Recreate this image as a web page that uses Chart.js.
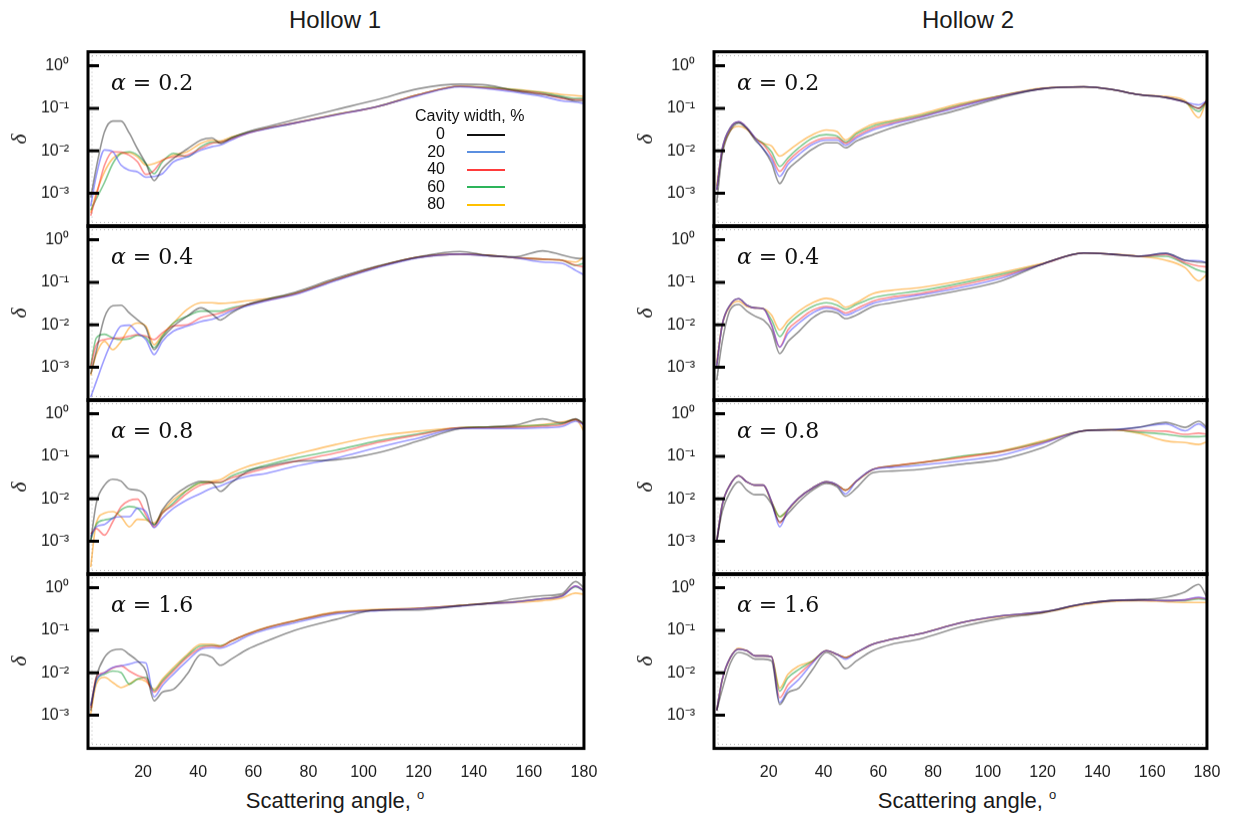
<!DOCTYPE html>
<html>
<head>
<meta charset="utf-8">
<title>Depolarization vs scattering angle</title>
<style>
  body { margin: 0; background: #fff; }
  #page { position: relative; width: 1237px; height: 817px; overflow: hidden; font-family: 'Liberation Sans', Arial, sans-serif; color: #1a1a1a; }
  .panel { position: absolute; left: 0; top: 0; z-index: 1; }
  .col-title { position: absolute; top: 6px; width: 300px; text-align: center; font-size: 24px; }
  .x-title { position: absolute; top: 787px; width: 300px; text-align: center; font-size: 22px; }
  .x-title sup { font-size: 13px; vertical-align: 9px; }
  .alpha { position: absolute; z-index: 2; font-family: 'DejaVu Serif', serif; font-size: 22px; line-height: 22px; white-space: pre; color: #111; }
  #legend { position: absolute; left: 400px; top: 107px; z-index: 2; font-family: 'Liberation Sans Narrow', 'Liberation Sans', sans-serif; font-size: 16px; color: #111; }
  #legend .head { line-height: 18px; padding-left: 15px; }
  #legend .row { height: 17.5px; line-height: 17.5px; }
  #legend .row span { display: inline-block; width: 45px; text-align: right; }
  #legend .row i { display: inline-block; width: 38px; height: 2px; margin-left: 22px; vertical-align: middle; }
</style>
</head>
<body>
<div id="page">
  <div class="col-title" style="left:185px">Hollow 1</div>
  <div class="col-title" style="left:818px">Hollow 2</div>
  <div class="x-title" style="left:185px">Scattering angle, <sup>o</sup></div>
  <div class="x-title" style="left:817px">Scattering angle, <sup>o</sup></div>
  <div id="legend"></div>
</div>
<script src="https://cdn.jsdelivr.net/npm/chart.js@4/dist/chart.umd.min.js"></script>
<script>
// -------------- Data --------------
const angles = [1, 3, 6, 9, 12, 15, 18, 21, 24, 27, 31, 36, 41, 45, 48, 52, 58, 65, 75, 90, 105, 120, 135, 145, 155, 165, 172, 177, 180];
const widths = ['0', '20', '40', '60', '80'];
const alphas = ['0.2', '0.4', '0.8', '1.6'];
const xTicks = [20, 40, 60, 80, 100, 120, 140, 160, 180];
const yTicks = [1e-3, 1e-2, 1e-1, 1];
const yTickLabels = ['10⁻³', '10⁻²', '10⁻¹', '10⁰'];

// Hollow 1, alpha = 0.2
const h1_a02_w0  = [8e-4, 0.004, 0.028, 0.05, 0.05, 0.026, 0.011, 0.005, 0.002, 0.0038, 0.0066, 0.011, 0.018, 0.02, 0.015, 0.02, 0.028, 0.037, 0.054, 0.093, 0.16, 0.29, 0.37, 0.35, 0.26, 0.21, 0.18, 0.15, 0.15];
const h1_a02_w20 = [5e-4, 0.0026, 0.0105, 0.0095, 0.0046, 0.0035, 0.0032, 0.0024, 0.0025, 0.0029, 0.0055, 0.0072, 0.0104, 0.0125, 0.0136, 0.018, 0.026, 0.033, 0.045, 0.07, 0.11, 0.2, 0.32, 0.29, 0.24, 0.19, 0.15, 0.14, 0.13];
const h1_a02_w40 = [3e-4, 8.8e-4, 0.0046, 0.0095, 0.0093, 0.0079, 0.0055, 0.0028, 0.0035, 0.006, 0.0072, 0.0079, 0.0114, 0.015, 0.016, 0.019, 0.026, 0.034, 0.045, 0.071, 0.11, 0.21, 0.33, 0.3, 0.26, 0.22, 0.17, 0.16, 0.16];
const h1_a02_w60 = [4e-4, 7.4e-4, 0.0018, 0.005, 0.0087, 0.0095, 0.0079, 0.005, 0.0029, 0.0055, 0.0087, 0.0072, 0.0125, 0.016, 0.016, 0.02, 0.027, 0.034, 0.045, 0.072, 0.11, 0.21, 0.33, 0.31, 0.27, 0.23, 0.19, 0.17, 0.17];
const h1_a02_w80 = [3.5e-4, 0.001, 0.0032, 0.0066, 0.0087, 0.009, 0.0072, 0.0046, 0.005, 0.006, 0.0079, 0.0095, 0.015, 0.018, 0.017, 0.021, 0.027, 0.034, 0.046, 0.072, 0.11, 0.21, 0.33, 0.31, 0.28, 0.24, 0.21, 0.2, 0.19];

// Hollow 1, alpha = 0.4
const h1_a04_w0  = [7e-4, 0.0024, 0.015, 0.028, 0.029, 0.019, 0.013, 0.0085, 0.0026, 0.0049, 0.0093, 0.016, 0.025, 0.018, 0.013, 0.019, 0.03, 0.04, 0.058, 0.125, 0.24, 0.4, 0.53, 0.43, 0.4, 0.55, 0.44, 0.37, 0.36];
const h1_a04_w20 = [2e-4, 4.6e-4, 0.0016, 0.0045, 0.0093, 0.0098, 0.0064, 0.0045, 0.002, 0.0041, 0.0071, 0.0093, 0.012, 0.0135, 0.016, 0.021, 0.028, 0.037, 0.051, 0.11, 0.22, 0.38, 0.46, 0.42, 0.38, 0.3, 0.28, 0.19, 0.15];
const h1_a04_w40 = [1e-3, 0.0034, 0.0045, 0.0048, 0.0049, 0.0054, 0.0059, 0.0054, 0.0045, 0.0065, 0.0093, 0.01, 0.0148, 0.017, 0.019, 0.023, 0.03, 0.038, 0.053, 0.115, 0.23, 0.39, 0.46, 0.43, 0.38, 0.35, 0.33, 0.25, 0.23];
const h1_a04_w60 = [1.1e-3, 0.0049, 0.006, 0.0049, 0.0045, 0.0047, 0.0057, 0.005, 0.0029, 0.0054, 0.011, 0.016, 0.021, 0.021, 0.021, 0.025, 0.03, 0.039, 0.054, 0.115, 0.23, 0.39, 0.46, 0.43, 0.38, 0.35, 0.33, 0.25, 0.28];
const h1_a04_w80 = [6.5e-4, 0.002, 0.0041, 0.0026, 0.0041, 0.0085, 0.011, 0.0093, 0.0034, 0.0059, 0.011, 0.023, 0.033, 0.033, 0.032, 0.033, 0.037, 0.041, 0.055, 0.115, 0.23, 0.39, 0.46, 0.43, 0.38, 0.35, 0.33, 0.3, 0.4];

// Hollow 1, alpha = 0.8
const h1_a08_w0  = [0.001, 0.0079, 0.021, 0.029, 0.026, 0.017, 0.016, 0.011, 0.0024, 0.0055, 0.0113, 0.0195, 0.026, 0.024, 0.015, 0.024, 0.044, 0.058, 0.076, 0.083, 0.12, 0.23, 0.45, 0.49, 0.54, 0.76, 0.61, 0.76, 0.56];
const h1_a08_w20 = [0.0013, 0.0022, 0.0025, 0.0035, 0.0038, 0.0038, 0.006, 0.005, 0.0021, 0.0035, 0.006, 0.0095, 0.0135, 0.018, 0.02, 0.026, 0.034, 0.04, 0.058, 0.09, 0.16, 0.27, 0.45, 0.45, 0.45, 0.47, 0.5, 0.67, 0.55];
const h1_a08_w40 = [0.0015, 0.002, 0.0014, 0.0029, 0.0066, 0.0091, 0.0098, 0.0042, 0.0022, 0.0046, 0.0072, 0.0135, 0.021, 0.024, 0.025, 0.031, 0.04, 0.053, 0.076, 0.12, 0.21, 0.32, 0.47, 0.47, 0.48, 0.51, 0.55, 0.73, 0.55];
const h1_a08_w60 = [0.0011, 0.0025, 0.0032, 0.0035, 0.0055, 0.0066, 0.006, 0.0035, 0.0025, 0.0046, 0.008, 0.016, 0.024, 0.024, 0.024, 0.034, 0.047, 0.063, 0.09, 0.14, 0.23, 0.34, 0.47, 0.49, 0.5, 0.54, 0.59, 0.73, 0.6];
const h1_a08_w80 = [2.5e-4, 0.0027, 0.0046, 0.005, 0.0038, 0.0022, 0.0033, 0.0032, 0.0027, 0.005, 0.0095, 0.016, 0.024, 0.026, 0.028, 0.04, 0.058, 0.076, 0.11, 0.19, 0.3, 0.39, 0.47, 0.49, 0.51, 0.56, 0.64, 0.73, 0.39];

// Hollow 1, alpha = 1.6
const h1_a16_w0  = [0.0013, 0.0078, 0.023, 0.034, 0.036, 0.027, 0.019, 0.011, 0.0022, 0.0035, 0.0041, 0.0093, 0.027, 0.023, 0.015, 0.021, 0.036, 0.056, 0.1, 0.18, 0.3, 0.3, 0.38, 0.43, 0.55, 0.65, 0.72, 1.4, 1.0];
const h1_a16_w20 = [0.0017, 0.0065, 0.0101, 0.0133, 0.0146, 0.016, 0.018, 0.017, 0.0027, 0.005, 0.0093, 0.019, 0.036, 0.039, 0.038, 0.047, 0.074, 0.105, 0.15, 0.24, 0.29, 0.32, 0.37, 0.42, 0.46, 0.55, 0.63, 1.1, 0.85];
const h1_a16_w40 = [0.0015, 0.0078, 0.0101, 0.013, 0.0145, 0.011, 0.0086, 0.0071, 0.0035, 0.0059, 0.011, 0.023, 0.039, 0.043, 0.041, 0.056, 0.081, 0.115, 0.165, 0.26, 0.3, 0.33, 0.38, 0.43, 0.47, 0.55, 0.65, 1.1, 0.85];
const h1_a16_w60 = [0.0017, 0.0065, 0.0093, 0.011, 0.0101, 0.0054, 0.0071, 0.0078, 0.0038, 0.0065, 0.012, 0.025, 0.043, 0.044, 0.043, 0.056, 0.081, 0.115, 0.165, 0.26, 0.3, 0.33, 0.38, 0.43, 0.47, 0.55, 0.65, 1.05, 0.85];
const h1_a16_w80 = [0.0011, 0.0054, 0.0078, 0.0059, 0.0045, 0.0054, 0.0071, 0.0063, 0.0041, 0.0071, 0.0133, 0.027, 0.047, 0.047, 0.043, 0.056, 0.083, 0.118, 0.17, 0.27, 0.31, 0.33, 0.38, 0.42, 0.45, 0.5, 0.58, 0.75, 0.7];

// Hollow 2, alpha = 0.2
const h2_a02_w0  = [6e-4, 0.008, 0.03, 0.045, 0.033, 0.018, 0.011, 0.0052, 0.0017, 0.0036, 0.0062, 0.011, 0.0154, 0.0154, 0.0118, 0.017, 0.024, 0.035, 0.053, 0.095, 0.18, 0.29, 0.32, 0.28, 0.21, 0.18, 0.14, 0.1, 0.15];
const h2_a02_w20 = [0.0012, 0.011, 0.035, 0.048, 0.035, 0.02, 0.011, 0.0063, 0.0025, 0.0048, 0.0082, 0.0142, 0.018, 0.018, 0.0135, 0.02, 0.031, 0.042, 0.06, 0.11, 0.19, 0.29, 0.32, 0.28, 0.21, 0.18, 0.14, 0.12, 0.15];
const h2_a02_w40 = [0.0012, 0.011, 0.035, 0.048, 0.035, 0.02, 0.014, 0.0075, 0.0033, 0.0057, 0.0098, 0.016, 0.02, 0.02, 0.015, 0.022, 0.034, 0.045, 0.063, 0.115, 0.195, 0.29, 0.32, 0.28, 0.21, 0.18, 0.14, 0.1, 0.15];
const h2_a02_w60 = [0.0012, 0.011, 0.035, 0.047, 0.035, 0.02, 0.015, 0.0095, 0.0043, 0.0068, 0.0118, 0.02, 0.024, 0.022, 0.016, 0.025, 0.038, 0.049, 0.066, 0.12, 0.2, 0.29, 0.32, 0.28, 0.21, 0.18, 0.14, 0.085, 0.15];
const h2_a02_w80 = [0.0015, 0.01, 0.03, 0.038, 0.032, 0.02, 0.015, 0.013, 0.0075, 0.0098, 0.0154, 0.024, 0.031, 0.028, 0.018, 0.027, 0.042, 0.052, 0.072, 0.13, 0.2, 0.3, 0.32, 0.28, 0.21, 0.19, 0.15, 0.06, 0.17];

// Hollow 2, alpha = 0.4
const h2_a04_w0  = [5e-4, 0.004, 0.023, 0.03, 0.021, 0.016, 0.013, 0.0076, 0.0021, 0.004, 0.007, 0.0145, 0.021, 0.019, 0.014, 0.017, 0.027, 0.033, 0.043, 0.065, 0.108, 0.27, 0.49, 0.46, 0.41, 0.48, 0.33, 0.3, 0.29];
const h2_a04_w20 = [0.0011, 0.01, 0.03, 0.041, 0.029, 0.025, 0.024, 0.01, 0.003, 0.0063, 0.011, 0.019, 0.025, 0.022, 0.017, 0.021, 0.032, 0.04, 0.05, 0.075, 0.125, 0.27, 0.49, 0.46, 0.41, 0.48, 0.33, 0.32, 0.29];
const h2_a04_w40 = [0.0011, 0.01, 0.03, 0.041, 0.029, 0.025, 0.024, 0.01, 0.003, 0.0076, 0.013, 0.022, 0.027, 0.024, 0.019, 0.024, 0.036, 0.045, 0.054, 0.085, 0.14, 0.27, 0.49, 0.46, 0.41, 0.45, 0.29, 0.24, 0.23];
const h2_a04_w60 = [0.0011, 0.01, 0.03, 0.041, 0.029, 0.025, 0.024, 0.013, 0.0053, 0.01, 0.017, 0.027, 0.033, 0.029, 0.023, 0.03, 0.043, 0.052, 0.063, 0.095, 0.155, 0.27, 0.49, 0.46, 0.41, 0.41, 0.27, 0.19, 0.17];
const h2_a04_w80 = [0.0013, 0.01, 0.028, 0.036, 0.027, 0.025, 0.024, 0.017, 0.0076, 0.0125, 0.021, 0.033, 0.042, 0.036, 0.026, 0.033, 0.054, 0.065, 0.075, 0.108, 0.17, 0.28, 0.49, 0.46, 0.41, 0.33, 0.22, 0.108, 0.155];

// Hollow 2, alpha = 0.8
const h2_a08_w0  = [0.001, 0.005, 0.015, 0.025, 0.016, 0.0125, 0.0125, 0.0075, 0.0029, 0.0045, 0.0085, 0.016, 0.023, 0.019, 0.0115, 0.018, 0.041, 0.045, 0.049, 0.065, 0.085, 0.16, 0.4, 0.42, 0.48, 0.63, 0.48, 0.67, 0.48];
const h2_a08_w20 = [0.001, 0.0072, 0.022, 0.035, 0.025, 0.021, 0.021, 0.0086, 0.0022, 0.0055, 0.0105, 0.018, 0.025, 0.021, 0.013, 0.026, 0.049, 0.055, 0.062, 0.078, 0.107, 0.2, 0.4, 0.42, 0.48, 0.58, 0.4, 0.58, 0.43];
const h2_a08_w40 = [0.001, 0.0072, 0.022, 0.035, 0.025, 0.021, 0.021, 0.0086, 0.0027, 0.0055, 0.0105, 0.018, 0.025, 0.021, 0.016, 0.026, 0.049, 0.059, 0.071, 0.092, 0.128, 0.21, 0.4, 0.42, 0.4, 0.39, 0.33, 0.35, 0.33];
const h2_a08_w60 = [0.001, 0.0072, 0.022, 0.035, 0.025, 0.021, 0.021, 0.0086, 0.0038, 0.0055, 0.0105, 0.018, 0.025, 0.021, 0.016, 0.026, 0.049, 0.059, 0.07, 0.1, 0.13, 0.22, 0.4, 0.42, 0.37, 0.33, 0.29, 0.29, 0.3];
const h2_a08_w80 = [0.001, 0.0072, 0.022, 0.035, 0.025, 0.021, 0.021, 0.0086, 0.0038, 0.0055, 0.0105, 0.018, 0.025, 0.021, 0.016, 0.026, 0.049, 0.059, 0.071, 0.096, 0.134, 0.23, 0.4, 0.42, 0.35, 0.23, 0.21, 0.19, 0.22];

// Hollow 2, alpha = 1.6
const h2_a16_w0  = [0.0013, 0.004, 0.017, 0.03, 0.027, 0.021, 0.021, 0.019, 0.0018, 0.0034, 0.0044, 0.012, 0.03, 0.021, 0.0125, 0.019, 0.033, 0.047, 0.062, 0.12, 0.19, 0.26, 0.42, 0.5, 0.52, 0.6, 0.8, 1.2, 0.6];
const h2_a16_w20 = [0.0013, 0.0069, 0.023, 0.036, 0.033, 0.025, 0.025, 0.024, 0.002, 0.004, 0.007, 0.017, 0.033, 0.027, 0.021, 0.03, 0.047, 0.062, 0.082, 0.15, 0.22, 0.27, 0.42, 0.5, 0.52, 0.5, 0.52, 0.6, 0.55];
const h2_a16_w40 = [0.0013, 0.0069, 0.023, 0.036, 0.033, 0.025, 0.025, 0.024, 0.0026, 0.0052, 0.0092, 0.018, 0.033, 0.027, 0.023, 0.03, 0.047, 0.062, 0.082, 0.15, 0.22, 0.27, 0.42, 0.5, 0.52, 0.5, 0.52, 0.58, 0.55];
const h2_a16_w60 = [0.0013, 0.0069, 0.023, 0.036, 0.033, 0.025, 0.025, 0.024, 0.0037, 0.0076, 0.012, 0.019, 0.033, 0.027, 0.023, 0.03, 0.047, 0.062, 0.082, 0.15, 0.22, 0.27, 0.42, 0.5, 0.52, 0.5, 0.5, 0.55, 0.52];
const h2_a16_w80 = [0.0013, 0.0069, 0.023, 0.038, 0.033, 0.025, 0.025, 0.024, 0.0044, 0.0092, 0.0145, 0.019, 0.033, 0.027, 0.023, 0.03, 0.047, 0.062, 0.082, 0.15, 0.21, 0.26, 0.4, 0.48, 0.5, 0.47, 0.45, 0.45, 0.45];

// one entry per panel: column (hollow), row (alpha), five series
const panels = [
    {col: 0, row: 0, series: [h1_a02_w0, h1_a02_w20, h1_a02_w40, h1_a02_w60, h1_a02_w80]},
    {col: 0, row: 1, series: [h1_a04_w0, h1_a04_w20, h1_a04_w40, h1_a04_w60, h1_a04_w80]},
    {col: 0, row: 2, series: [h1_a08_w0, h1_a08_w20, h1_a08_w40, h1_a08_w60, h1_a08_w80]},
    {col: 0, row: 3, series: [h1_a16_w0, h1_a16_w20, h1_a16_w40, h1_a16_w60, h1_a16_w80]},
    {col: 1, row: 0, series: [h2_a02_w0, h2_a02_w20, h2_a02_w40, h2_a02_w60, h2_a02_w80]},
    {col: 1, row: 1, series: [h2_a04_w0, h2_a04_w20, h2_a04_w40, h2_a04_w60, h2_a04_w80]},
    {col: 1, row: 2, series: [h2_a08_w0, h2_a08_w20, h2_a08_w40, h2_a08_w60, h2_a08_w80]},
    {col: 1, row: 3, series: [h2_a16_w0, h2_a16_w20, h2_a16_w40, h2_a16_w60, h2_a16_w80]}
];

// -------------- Look --------------
const lineColors = ['rgba(0,0,0,0.42)', 'rgba(60,60,255,0.5)', 'rgba(255,40,40,0.5)', 'rgba(30,160,60,0.55)', 'rgba(255,160,30,0.6)'];
const legendColors = ['#111111', '#5b8fe0', '#ff3b3b', '#2db45a', '#ffc000'];
const colLeft = [88, 714];
const colRight = [584, 1207];
const rowTop = [52, 226, 400, 574];
const rowHeight = 174;
const tickFont = {family: "'Liberation Sans Narrow', 'Liberation Sans', sans-serif", size: 16};

// -------------- Legend (inside Hollow 1, alpha 0.2) --------------
document.getElementById('legend').innerHTML =
    '<div class="head">Cavity width, %</div>' +
    widths.map((w, i) => `<div class="row"><span>${w}</span><i style="background:${legendColors[i]}"></i></div>`).join('');

// Closed black frame, inward y ticks and the faint dotted inner rules
const framePlugin = {
    id: 'frame',
    afterDatasetsDraw(chart) {
        const {ctx, chartArea: a, scales} = chart;
        ctx.save();
        ctx.strokeStyle = 'rgba(0,0,0,0.3)';
        ctx.lineWidth = 1;
        ctx.setLineDash([1, 3]);
        ctx.beginPath();
        ctx.moveTo(a.left + 4, a.top + 4); ctx.lineTo(a.right - 4, a.top + 4);
        ctx.moveTo(a.left + 4, a.bottom - 4); ctx.lineTo(a.right - 4, a.bottom - 4);
        ctx.moveTo(a.left + 4, a.top + 4); ctx.lineTo(a.left + 4, a.bottom - 4);
        ctx.stroke();
        ctx.setLineDash([]);
        ctx.strokeStyle = '#000';
        ctx.lineWidth = 3;
        ctx.strokeRect(a.left, a.top, a.right - a.left, a.bottom - a.top);
        ctx.beginPath();
        yTicks.forEach(v => {
            const py = scales.y.getPixelForValue(v);
            ctx.moveTo(a.left, py);
            ctx.lineTo(a.left + 11, py);
        });
        ctx.stroke();
        ctx.restore();
    }
};

// -------------- Panels --------------
const page = document.getElementById('page');

panels.forEach(p => {
    const isBottom = p.row === alphas.length - 1;
    const box = document.createElement('div');
    box.className = 'panel';
    box.style.width = '600px';
    box.style.height = (isBottom ? 260 : 230) + 'px';
    const canvas = document.createElement('canvas');
    box.appendChild(canvas);
    page.appendChild(box);

    const chart = new Chart(canvas, {
        type: 'line',
        data: {
            datasets: p.series.map((s, i) => ({
                label: widths[i],
                data: angles.map((a, j) => ({x: a, y: s[j]})),
                borderColor: lineColors[i],
                borderWidth: 1.6,
                pointRadius: 0,
                fill: false,
                cubicInterpolationMode: 'monotone'
            }))
        },
        options: {
            responsive: true,
            maintainAspectRatio: false,
            animation: false,
            events: [],
            layout: {padding: {top: 0, right: 20, bottom: 0, left: 0}},
            plugins: {legend: {display: false}, tooltip: {enabled: false}},
            scales: {
                x: {
                    type: 'linear', min: 0, max: 180,
                    afterBuildTicks: s => { s.ticks = xTicks.map(v => ({value: v})); },
                    grid: {display: false, drawTicks: false},
                    border: {display: false},
                    ticks: {display: isBottom, padding: 14, maxRotation: 0, autoSkip: false, font: tickFont, color: '#1a1a1a'}
                },
                y: {
                    type: 'logarithmic', min: 1.66e-4, max: 2.14,
                    afterBuildTicks: s => { s.ticks = yTicks.map(v => ({value: v})); },
                    afterFit: s => { s.width = 85; },
                    grid: {display: false, drawTicks: false},
                    border: {display: false},
                    ticks: {padding: 19, font: tickFont, color: '#1a1a1a', callback: (v, i) => yTickLabels[i]},
                    title: {display: true, text: 'δ', color: '#1a1a1a', padding: {top: 4, bottom: 0},
                            font: {family: "'Liberation Serif', serif", style: 'italic', size: 22}}
                }
            }
        },
        plugins: [framePlugin]
    });

    // move and size the box so the plot area sits exactly on the panel frame
    const area = {x: colLeft[p.col], y: rowTop[p.row], w: colRight[p.col] - colLeft[p.col], h: rowHeight};
    let ca = chart.chartArea;
    box.style.width = (box.clientWidth + area.w - (ca.right - ca.left)) + 'px';
    box.style.height = (box.clientHeight + area.h - (ca.bottom - ca.top)) + 'px';
    chart.resize();
    ca = chart.chartArea;
    box.style.left = (area.x - ca.left) + 'px';
    box.style.top = (area.y - ca.top) + 'px';

    // alpha label in the upper left corner of the panel
    const lab = document.createElement('div');
    lab.className = 'alpha';
    lab.style.left = (area.x + 23) + 'px';
    lab.style.top = (area.y + 20) + 'px';
    lab.innerHTML = '<i>α</i> = ' + alphas[p.row];
    page.appendChild(lab);
});
</script>
</body>
</html>
